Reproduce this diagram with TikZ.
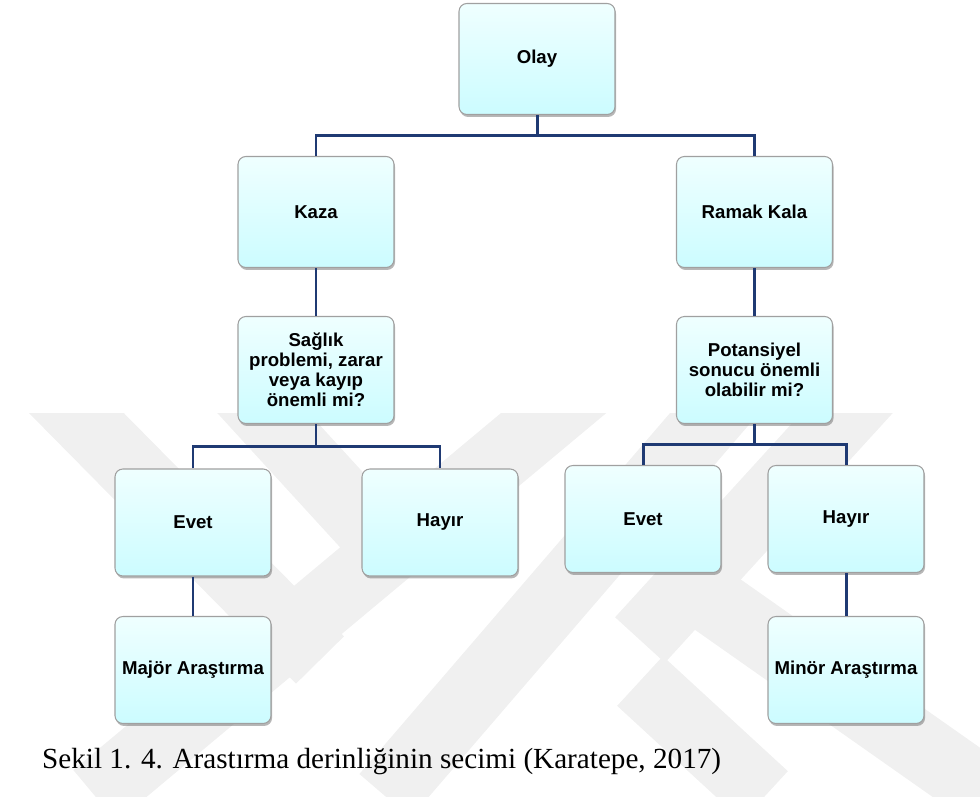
\documentclass[tikz,border=0pt]{standalone}
\usepackage{fontspec}
\setmainfont{Liberation Serif}
\setsansfont{Liberation Sans}
\usepackage{tikz}
\usetikzlibrary{calc,shadows}
\definecolor{boxtop}{HTML}{EFFFFF}
\definecolor{boxbottom}{HTML}{CCFCFF}
\definecolor{boxedge}{HTML}{A0A0A0}
\definecolor{linkblue}{HTML}{1F3A73}
\definecolor{markgray}{HTML}{F0F0F0}
\tikzset{
	box/.style={rectangle, rounded corners=4.5pt, draw=boxedge, line width=0.6pt,
		top color=boxtop, bottom color=boxbottom, align=center,
		minimum width=3.12cm, minimum height=2.14cm, inner sep=1pt,
		font=\sffamily\bfseries\fontsize{10.6}{11.3}\selectfont,
		drop shadow={shadow xshift=0.6pt, shadow yshift=-1.4pt, opacity=0.4, fill=black!70}},
	bigbox/.style={box, minimum height=2.22cm},
	link/.style={draw=linkblue, line width=1.7pt},
	wmband/.style={draw=markgray, line width=1.35cm}
}

\begin{document}
\begin{tikzpicture}
		%%%%% START %%%%%
		\useasboundingbox (0, 0) rectangle (19.6, 15.92);
		
		% faint watermark behind the chart
		\begin{scope}
			\clip (0, 0) rectangle (19.6, 7.66);
			\draw[wmband] (0.6, 8.6) -- (6.4, 2.72);
			\draw[wmband] (4.4, 8.6) -- (7.4, 5.32);
			\draw[wmband] (12.2, 8.6) -- (1.9, 0);
			\draw[wmband] (15.1, 8.6) -- (7.7, 0);
			\draw[wmband] (17.8, 8.6) -- (12.8, 3.12);
			\draw[wmband] (13.4, 4.5) -- (19.8, 0.0);
			\draw[wmband] (12.8, 2.3) -- (15.3, 0);
		\end{scope}
		
		% boxes
		\node[bigbox] (olay) at (10.74, 14.74) {Olay};
		\node[bigbox] (kaza) at (6.32, 11.68) {Kaza};
		\node[bigbox] (ramak) at (15.09, 11.68) {Ramak Kala};
		
		\node[box] (saglik) at (6.32, 8.52) {Sağlık\\problemi, zarar\\veya kayıp\\önemli mi?};
		\node[box] (potansiyel) at (15.09, 8.52) {Potansiyel\\sonucu önemli\\olabilir mi?};
		
		\node[box] (evetA) at (3.86, 5.47) {Evet};
		\node[box] (hayirA) at (8.80, 5.47) {Hayır};
		\node[box] (evetB) at (12.86, 5.54) {Evet};
		\node[box] (hayirB) at (16.92, 5.54) {Hayır};
		
		\node[box] (major) at (3.86, 2.52) {Majör Araştırma};
		\node[box] (minor) at (16.92, 2.52) {Minör Araştırma};
		
		% connectors
		\path (olay.south) -- (olay.south |- kaza.north) coordinate[pos=0.5] (split1);
		\draw[link] (olay.south) -- (split1);
		\draw[link] (kaza.north) |- (split1) -| (ramak.north);
		
		\draw[link] (kaza.south) -- (saglik.north);
		\draw[link] (ramak.south) -- (potansiyel.north);
		
		\path (saglik.south) -- (saglik.south |- evetA.north) coordinate[pos=0.5] (split2);
		\draw[link] (saglik.south) -- (split2);
		\draw[link] (evetA.north) |- (split2) -| (hayirA.north);
		
		\path (potansiyel.south) -- (potansiyel.south |- evetB.north) coordinate[pos=0.5] (split3);
		\draw[link] (potansiyel.south) -- (split3);
		\draw[link] (evetB.north) |- (split3) -| (hayirB.north);
		
		\draw[link] (evetA.south) -- (major.north);
		\draw[link] (hayirB.south) -- (minor.north);
		
		% caption
		\node[anchor=base west, font=\fontsize{16.6}{18}\selectfont] (caption) at (0.72, 0.56)
			{Sekil 1. 4. Arastırma derinliğinin secimi (Karatepe, 2017)};
		
		%%%%% END %%%%%
	\end{tikzpicture}
\end{document}
